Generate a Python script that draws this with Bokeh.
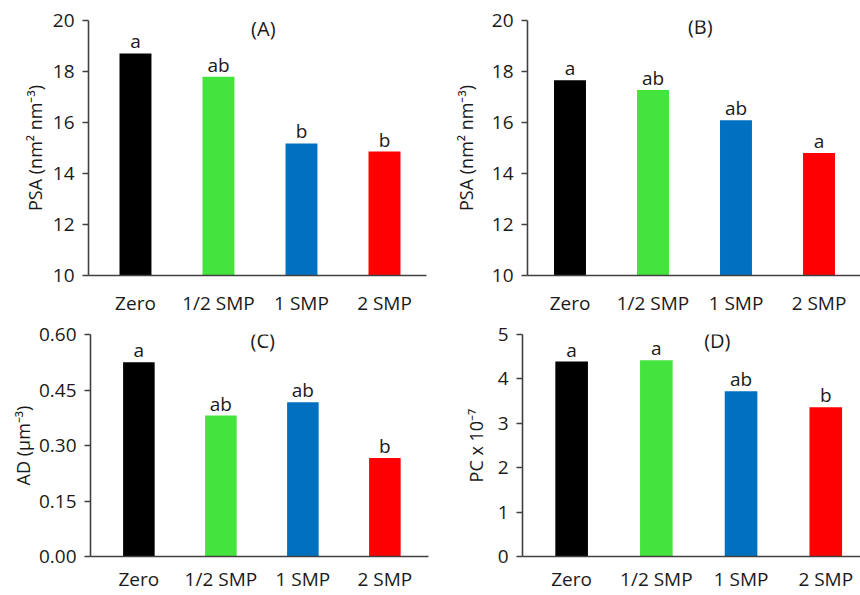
from bokeh.plotting import figure
from bokeh.layouts import column, row
from bokeh.models import Range1d, FixedTicker, Label, ColumnDataSource, NumeralTickFormatter
from bokeh.embed import file_html
from bokeh.resources import INLINE
from bokeh.core.properties import value

categories = ["Zero", "1/2 SMP", "1 SMP", "2 SMP"]
bar_colors = ["#000000", "#45E33E", "#0070C0", "#FF0000"]

psa_a = [18.71, 17.79, 15.18, 14.86]
letters_a = ["a", "ab", "b", "b"]

psa_b = [17.66, 17.27, 16.09, 14.80]
letters_b = ["a", "ab", "ab", "a"]

ad_c = [0.525, 0.381, 0.417, 0.266]
letters_c = ["a", "ab", "ab", "b"]

pc_d = [4.39, 4.42, 3.72, 3.36]
letters_d = ["a", "a", "ab", "b"]

FONT = "Open Sans"
FONT_V = value(FONT)
TXT = "#1a1a1a"
AXC = "#404040"


def panel(values, letters, title, title_x, title_off, ylabel, y_lo, y_hi, yticks, fmt,
          x_lo, x_hi, width, height, bl, br, bt, bb, x_standoff, lab_standoff):
    p = figure(width=width, height=height, output_backend="svg", toolbar_location=None,
               x_range=Range1d(x_lo, x_hi), y_range=Range1d(y_lo, y_hi),
               min_border_left=bl, min_border_right=br, min_border_top=bt, min_border_bottom=bb)
    p.outline_line_color = None
    p.grid.visible = False
    p.background_fill_color = "white"
    p.border_fill_color = "white"
    xs = list(range(len(categories)))
    src = ColumnDataSource(dict(x=xs, top=values, color=bar_colors, letter=letters))
    p.vbar(x="x", top="top", bottom=y_lo, width=0.385, fill_color="color", line_color=None, source=src)
    p.text(x="x", y="top", text="letter", source=src, text_align="center", text_baseline="bottom",
           text_font=FONT_V, text_font_size="19px", text_color=TXT, y_offset=1)
    p.add_layout(Label(x=title_x, y=y_hi, text=title, text_align="center", text_baseline="top",
                       text_font=FONT, text_font_size="20px", text_color=TXT, y_offset=title_off))

    xa = p.xaxis[0]
    xa.ticker = FixedTicker(ticks=xs)
    xa.major_label_overrides = {i: c for i, c in enumerate(categories)}
    xa.major_tick_out = 0
    xa.major_tick_in = 0
    xa.minor_tick_out = 0
    xa.minor_tick_in = 0
    xa.major_label_standoff = x_standoff
    xa.axis_line_color = AXC
    xa.axis_line_width = 1.6
    xa.major_label_text_font = FONT
    xa.major_label_text_font_size = "19px"
    xa.major_label_text_color = TXT

    ya = p.yaxis[0]
    ya.ticker = FixedTicker(ticks=yticks)
    if fmt:
        ya.formatter = NumeralTickFormatter(format=fmt)
    ya.major_tick_out = 6
    ya.major_tick_in = 0
    ya.minor_tick_out = 0
    ya.minor_tick_in = 0
    ya.major_tick_line_color = AXC
    ya.major_tick_line_width = 1.6
    ya.axis_line_color = AXC
    ya.axis_line_width = 1.6
    ya.major_label_standoff = 8
    ya.major_label_text_font = FONT
    ya.major_label_text_font_size = "19px"
    ya.major_label_text_color = TXT
    ya.axis_label = ylabel
    ya.axis_label_text_font = FONT
    ya.axis_label_text_font_size = "18px"
    ya.axis_label_text_font_style = "normal"
    ya.axis_label_text_color = TXT
    ya.axis_label_standoff = lab_standoff
    return p


p1 = panel(psa_a, letters_a, "(A)", 1.54, 6, "PSA (nm² nm⁻³)", 10, 20, [10, 12, 14, 16, 18, 20], None,
           -0.566, 3.506, 430, 318, 88, 4, 20, 42, 14, 3)
p2 = panel(psa_b, letters_b, "(B)", 1.57, 8, "PSA (nm² nm⁻³)", 10, 20, [10, 12, 14, 16, 18, 20], None,
           -0.512, 3.50, 430, 318, 97, 0, 20, 42, 14, 11)
p3 = panel(ad_c, letters_c, "(C)", 1.51, 8, "AD (µm⁻³)", 0, 0.6, [0, 0.15, 0.30, 0.45, 0.60], "0.00",
           -0.59, 3.532, 430, 277, 90, 2, 16, 39, 9, 1)
p4 = panel(pc_d, letters_d, "(D)", 1.72, 8, "PC x 10⁻⁷", 0, 5, [0, 1, 2, 3, 4, 5], None,
           -0.58, 3.41, 430, 277, 92, 0, 16, 39, 9, 7)

layout = column(row(p1, p2, spacing=0), row(p3, p4, spacing=0), spacing=0)
open("out.html", "w").write(file_html(layout, INLINE))
